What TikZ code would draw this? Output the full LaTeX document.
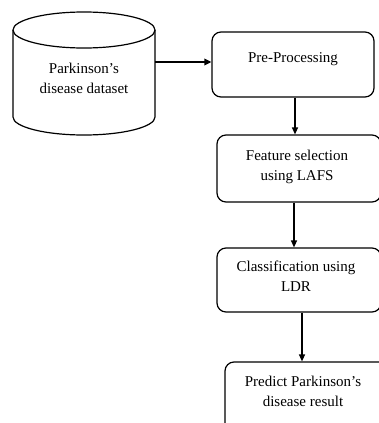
\documentclass[tikz,border=0pt]{standalone}
\usepackage{fontspec}
\setmainfont{Liberation Serif}
\usetikzlibrary{arrows.meta}
\begin{document}
\begin{tikzpicture}[x=1pt,y=-1pt,
  procbox/.style={draw,line width=1.2pt,rounded corners=9pt,inner sep=0pt},
  lbl/.style={font=\fontsize{15}{20}\selectfont,align=center},
  flow/.style={line width=1.2pt,-{Triangle[length=7pt,width=6pt]}},
  thickflow/.style={line width=1.8pt,-{Triangle[length=7pt,width=6.5pt]}}]
\useasboundingbox (0,0) rectangle (379,423);
\clip (0,0) rectangle (379,423);
% cylinder
\draw[line width=1.2pt] (84,30) ellipse [x radius=71, y radius=18];
\draw[line width=1.2pt] (13,30) -- (13,117) arc [start angle=180, end angle=0, x radius=71, y radius=18] -- (155,30);
\node[lbl] (db) at (84,78) {Parkinson's\\disease dataset};
\coordinate (dbr) at (155,62);
% boxes
\node[procbox,minimum width=162pt,minimum height=65pt] (pre) at (293,64.5) {};
\node[lbl] (pret) at (293,59) {Pre-Processing};
\node[procbox,minimum width=164pt,minimum height=67pt] (feat) at (299,168.5) {};
\node[lbl] (featt) at (297,167) {Feature selection\\using LAFS};
\node[procbox,minimum width=164pt,minimum height=64pt] (cls) at (299,280) {};
\node[lbl] (clst) at (296,276) {Classification using\\LDR};
\node[procbox,minimum width=164pt,minimum height=70pt] (pred) at (307,397) {};
\node[lbl] (predt) at (303,391) {Predict Parkinson's\\disease result};
% connectors
\draw[thickflow] (dbr) -- (dbr -| pre.west);
\draw[flow] ([xshift=2pt]pre.south) -- ([xshift=2pt]pre.south |- feat.north);
\draw[flow] ([xshift=-5pt]feat.south) -- ([xshift=-5pt]feat.south |- cls.north);
\draw[flow] ([xshift=3pt]cls.south) -- ([xshift=3pt]cls.south |- pred.north);
\end{tikzpicture}
\end{document}
